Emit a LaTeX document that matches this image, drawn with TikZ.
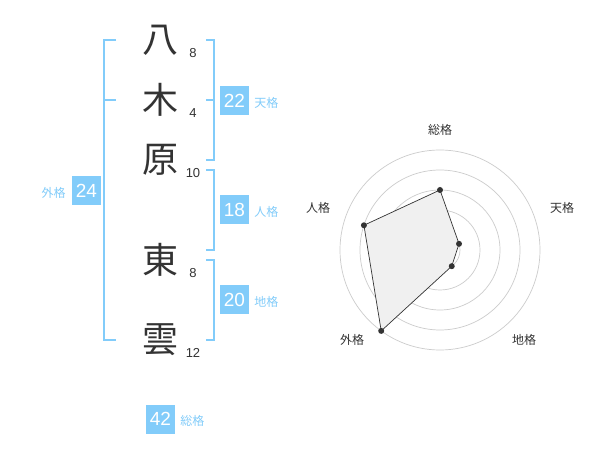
\documentclass[tikz,border=0pt]{standalone}
\usepackage{fontspec}
\setmainfont{Liberation Sans}
\newfontfamily\jp{Noto Sans CJK JP}
\usetikzlibrary{positioning}
\definecolor{kakucol}{RGB}{130,204,250}
\definecolor{ink}{RGB}{51,51,51}
\definecolor{ringcol}{RGB}{204,204,204}

\begin{document}
\begin{tikzpicture}[x=1pt,y=-1pt,
    kanji/.style={font=\jp\fontsize{36}{36}\selectfont,text=ink,inner sep=0pt},
    num/.style={font=\fontsize{13}{13}\selectfont,text=ink,inner sep=0pt},
    kaku/.style={fill=kakucol,text=white,minimum size=29pt,inner sep=0pt,font=\fontsize{19}{19}\selectfont},
    lab/.style={font=\jp\fontsize{12}{12}\selectfont,text=kakucol,inner sep=0pt},
    rlab/.style={font=\jp\fontsize{12}{12}\selectfont,text=ink,inner sep=0pt},
    brk/.style={kakucol,line width=2pt}]
    \useasboundingbox[fill=white](0,0)rectangle(600,470);
    % name and strokes
    \foreach \n/\k/\s/\y in {a/八/8/40,b/木/4/100,c/原/10/160,d/東/8/260,e/雲/12/340}{
        \node[kanji](k\n)at(160,\y){\k};
        \node[num](s\n)at(193,\y+13){\s};
    }
    % brackets
    \draw[brk](116,40)-|(104,340)--(116,340);
    \draw[brk](104,100)--(116,100);
    \draw[brk](206,40)-|(214,160)--(206,160);
    \draw[brk](206,100)--(214,100);
    \draw[brk](206,170)-|(214,250)--(206,250);
    \draw[brk](206,260)-|(214,340)--(206,340);
    % boxes
    \node[kaku](ten)at(234.5,100.5){22};
    \node[lab,right=5pt of ten,yshift=-2pt]{天格};
    \node[kaku](jin)at(234.5,210){18};
    \node[lab,right=5pt of jin,yshift=-2pt]{人格};
    \node[kaku](chi)at(234.5,300){20};
    \node[lab,right=5pt of chi,yshift=-2pt]{地格};
    \node[kaku](gai)at(86.5,191){24};
    \node[lab,left=6pt of gai,yshift=-2pt]{外格};
    \node[kaku](sou)at(160.5,419){42};
    \node[lab,right=5pt of sou,yshift=-2pt]{総格};
    % radar
    \begin{scope}[shift={(440,250)}]
        \foreach \r in {20,40,...,100}
            \draw[ringcol,line width=0.7pt](0,0)circle[radius=\r pt];
        \fill[ringcol](0,0)circle[radius=3pt];
        \foreach \n/\a/\v in {rsou/90/3,rten/18/1,rchi/-54/1,rgai/-126/5,rjin/162/4}
            \coordinate(\n)at(\a:\v*20pt);
    \end{scope}
    \draw[ink,fill=black!6,line width=0.7pt](rsou)--(rten)--(rchi)--(rgai)--(rjin)--cycle;
    \foreach \n in {rsou,rten,rchi,rgai,rjin}
        \fill[ink](\n)circle[radius=3pt];
    \node[rlab](lsou)at(440,130){総格};
    \node[rlab](lten)at(562,208){天格};
    \node[rlab](ljin)at(318,208){人格};
    \node[rlab](lgai)at(352,340){外格};
    \node[rlab](lchi)at(524,340){地格};
\end{tikzpicture}
\end{document}
